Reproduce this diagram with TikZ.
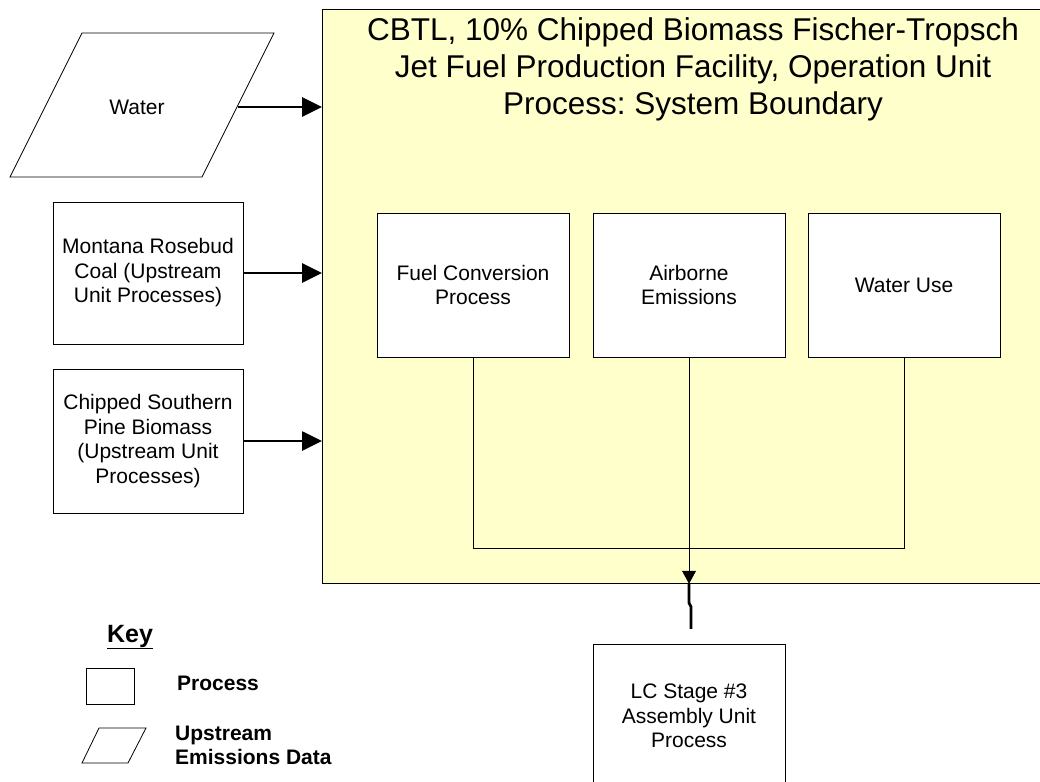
\documentclass[tikz,border=0pt]{standalone}
\usepackage{fontspec}
\setmainfont{Liberation Sans}
\usepackage{tikz}
\usetikzlibrary{arrows.meta,positioning}
\definecolor{bndyellow}{RGB}{255,255,204}
\frenchspacing

\begin{document}
\begin{tikzpicture}[scale=0.3515]
                    \tikzstyle{every node}+=[inner sep=0pt]
                    \tikzstyle{procbox}=[draw=black, fill=white, line width=0.8pt, minimum width=192pt, minimum height=144pt, align=center, font=\fontsize{21}{24.5}\selectfont]
                    \tikzstyle{feed}=[line width=2.8pt, -{Triangle[length=20pt,width=19pt]}]
                    \useasboundingbox (0,0) rectangle (104,-78.2);
                    % system boundary
                    \node [draw=black, fill=bndyellow, line width=0.8pt, anchor=north west, minimum width=760pt, minimum height=574pt] (bound) at (32.2,-0.9) {};
                    \node [align=center, font=\fontsize{31.5}{37}\selectfont] (title) at (69.3,-6.9) {CBTL, 10\% Chipped Biomass Fischer-Tropsch\\Jet Fuel Production Facility, Operation Unit\\Process: System Boundary};
                    % inputs
                    \draw [black, line width=0.8pt, fill=white] (8.2,-3.3) -- (27.4,-3.3) -- (20.2,-17.7) -- (1.0,-17.7) -- cycle;
                    \node [font=\fontsize{21}{24.5}\selectfont] (water) at (13.7,-10.7) {Water};
                    \coordinate (waterR) at (23.8,-10.7);
                    \node [procbox, minimum width=190pt, minimum height=142pt] (coal) at (14.8,-27.3) {Montana Rosebud\\Coal (Upstream\\Unit Processes)};
                    \node [procbox, minimum width=190pt] (pine) at (14.8,-44.1) {Chipped Southern\\Pine Biomass\\(Upstream Unit\\Processes)};
                    \draw [feed] (waterR) -- (waterR -| bound.west);
                    \draw [feed] (coal.east) -- (coal.east -| bound.west);
                    \draw [feed] (pine.east) -- (pine.east -| bound.west);
                    % unit processes
                    \node [procbox] (fuel) at (47.3,-28.5) {Fuel Conversion\\Process};
                    \node [procbox] (air) at (68.9,-28.5) {Airborne\\Emissions};
                    \node [procbox] (wuse) at (90.4,-28.5) {Water Use};
                    \draw [black, line width=0.8pt] (fuel.south) -- (fuel.south |- 0,-54.8) -| (wuse.south);
                    \draw [black, line width=0.8pt, -{Triangle[length=13pt,width=14pt]}] (air.south) -- (air.south |- bound.south);
                    % output
                    \node [procbox, minimum width=192pt] (lc) at (68.9,-71.6) {LC Stage \#3\\Assembly Unit\\Process};
                    \draw [black, line width=2.8pt] (air.south |- bound.south) -- ++(0,-1.9) -- ++(0.2,-0.4) -- ++(0,-2.2);
                    % key
                    \node [font=\bfseries\fontsize{25}{30}\selectfont] (key) at (13.0,-63.7) {\underline{Key}};
                    \node [draw=black, line width=0.8pt, minimum width=48pt, minimum height=36pt] (keyproc) at (11.0,-68.6) {};
                    \node [anchor=west, font=\bfseries\fontsize{21}{24}\selectfont] (keyproctxt) at (17.7,-68.3) {Process};
                    \draw [black, line width=0.8pt] (9.9,-72.8) -- (14.6,-72.8) -- (12.8,-76.3) -- (8.2,-76.3) -- cycle;
                    \node [anchor=west, align=left, font=\bfseries\fontsize{21}{24}\selectfont] (keydata) at (17.5,-74.5) {Upstream\\Emissions Data};
                \end{tikzpicture}
\end{document}
